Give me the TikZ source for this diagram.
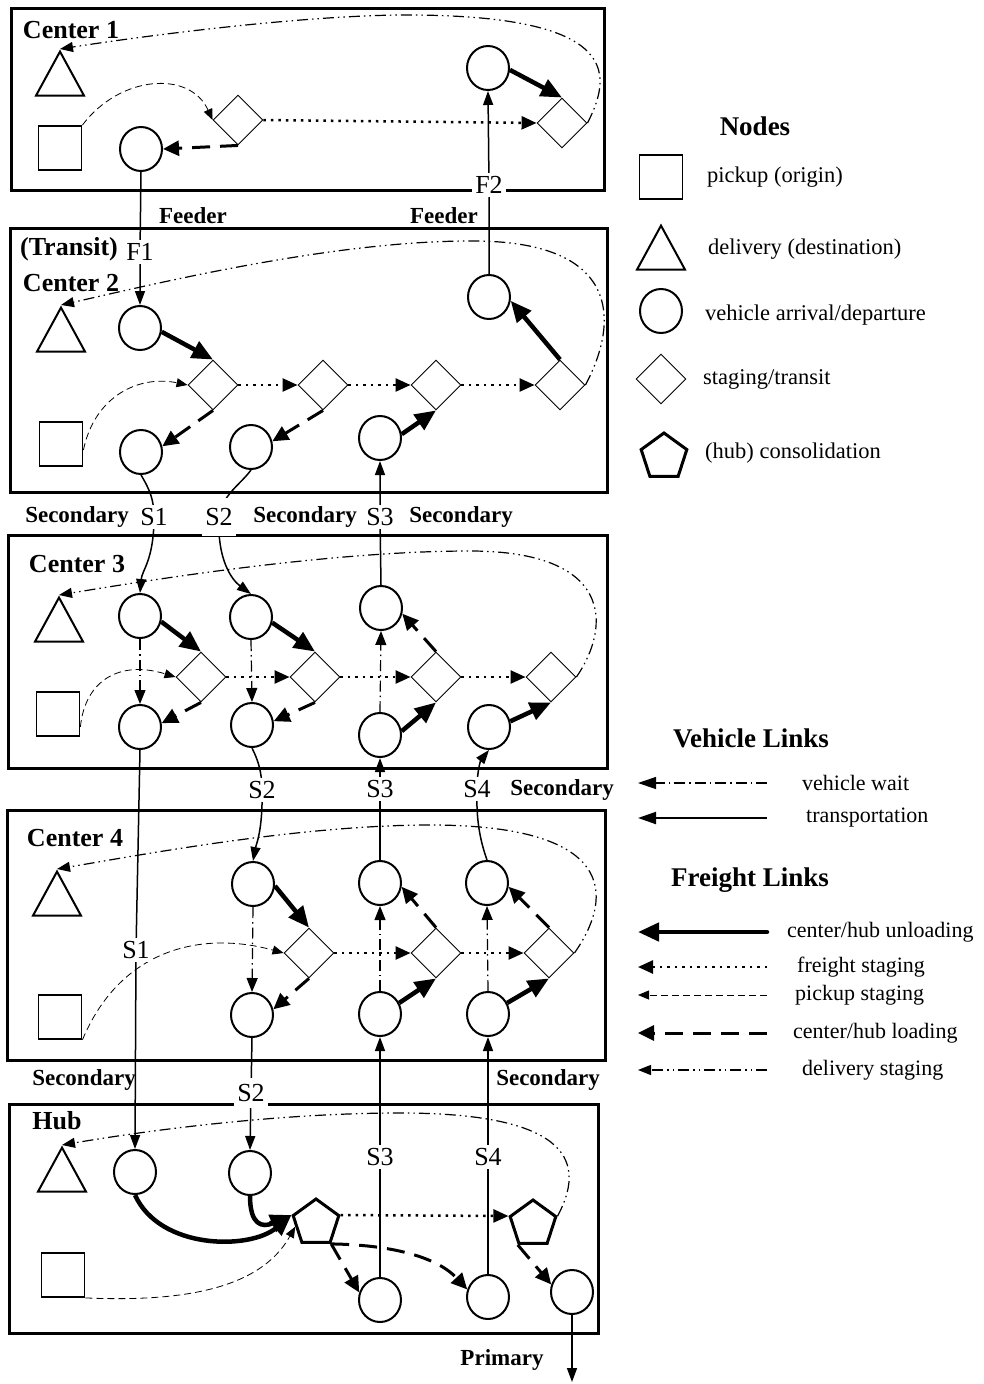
\documentclass[tikz,border=0pt]{standalone}
\usepackage{fontspec}
\setmainfont{Liberation Serif}
\usetikzlibrary{arrows.meta,shapes.geometric}
\tikzset{
 cbox/.style={line width=3pt},
 veh/.style={ellipse, draw, line width=2pt, minimum width=42pt, minimum height=44pt, inner sep=0pt},
 stg/.style={diamond, draw, line width=0.9pt, minimum width=50pt, minimum height=50pt, inner sep=0pt},
 hubn/.style={regular polygon, regular polygon sides=5, draw, line width=3pt, minimum size=48pt, inner sep=0pt},
 dest/.style={isosceles triangle, shape border rotate=90, isosceles triangle stretches, draw, line width=2pt, minimum width=48pt, minimum height=44pt, inner sep=0pt, anchor=apex},
 orig/.style={rectangle, draw, line width=1.8pt, minimum width=43pt, minimum height=44pt, inner sep=0pt},
 transp/.style={line width=1.5pt, -{Triangle[length=14pt,width=10pt]}},
 unload/.style={line width=4.5pt, -{Triangle[length=21pt,width=18pt]}},
 loadl/.style={line width=3pt, dash pattern=on 18pt off 10pt, -{Triangle[length=16pt,width=15pt]}},
 frt/.style={line width=2.5pt, dash pattern=on 2.5pt off 5pt, -{Triangle[length=15pt,width=13pt]}},
 pick/.style={line width=0.8pt, dash pattern=on 7pt off 4pt, -{Triangle[length=11pt,width=9pt]}},
 deliv/.style={line width=1.2pt, dash pattern=on 11pt off 4pt on 1.5pt off 4pt on 1.5pt off 4pt, -{Triangle[length=13pt,width=10pt]}},
 vwait/.style={line width=1.2pt, dash pattern=on 11pt off 4pt on 1.5pt off 4pt, -{Triangle[length=14pt,width=11pt]}},
 boxlbl/.style={font=\bfseries\fontsize{26}{30}\selectfont, inner sep=0pt},
 sec/.style={font=\bfseries\fontsize{23}{27}\selectfont, inner sep=0pt},
 lbl/.style={font=\fontsize{26}{30}\selectfont, fill=white, inner sep=3pt},
 leg/.style={font=\fontsize{22.5}{26}\selectfont, anchor=west, inner sep=0pt},
 legb/.style={font=\fontsize{22}{26}\selectfont, anchor=west, inner sep=0pt},
 legt/.style={font=\bfseries\fontsize{27}{32}\selectfont, inner sep=0pt},
}
\begin{document}
\begin{tikzpicture}[x=1pt,y=-1pt]
\useasboundingbox (0,0) rectangle (984,1384);

% ---------- boxes
\draw[cbox] (11,8) rectangle (604,190);
\draw[cbox] (10,228) rectangle (607,492);
\draw[cbox] (8,535) rectangle (607,768);
\draw[cbox] (7,810) rectangle (605,1060);
\draw[cbox] (9,1104) rectangle (598,1333);

% ---------- box labels
\node[boxlbl] (L1) at (71,30) {Center 1};
\node[boxlbl] (L2a) at (69,249) {(Transit)};
\node[boxlbl] (L2) at (71,283) {Center 2};
\node[boxlbl] (L3) at (77,564) {Center 3};
\node[boxlbl] (L4) at (75,838) {Center 4};
\node[boxlbl] (L5) at (57,1121) {Hub};

% ---------- Center 1
\node[dest] (t1) at (60,49) {};
\node[orig] (q1) at (60,148) {};
\node[veh] (c1a) at (141,149) {};
\node[veh] (c1b) at (488,68) {};
\node[stg] (d11) at (238,120) {};
\node[stg] (d12) at (562,123) {};
\draw[pick] (q1.north east) .. controls (120,75) and (190,70) .. (d11.west);
\draw[loadl] (d11.south) -- (c1a.east);
\draw[frt] (d11.east) -- (d12.west);
\draw[unload] (c1b.-5) -- (d12.north);
\draw[deliv] (d12.east) .. controls (615,70) and (615,14) .. (400,15) .. controls (300,16) and (150,35) .. (t1.apex);

% ---------- Center 2
\node[dest] (t2) at (61,305) {};
\node[orig] (q2) at (61,444) {};
\node[veh] (c2a) at (140,328) {};
\node[veh] (c2b) at (489,297) {};
\node[veh] (c2c) at (141,452) {};
\node[veh] (c2d) at (251,447) {};
\node[veh] (c2e) at (380,438) {};
\node[stg] (d2a) at (213,385) {};
\node[stg] (d2b) at (323,385) {};
\node[stg] (d2c) at (436,385) {};
\node[stg] (d2d) at (560,385) {};
\draw[pick] (q2.-15) .. controls (95,395) and (140,375) .. (d2a.west);
\draw[unload] (c2a.-10) -- (d2a.north);
\draw[loadl] (d2a.south) -- (c2c.15);
\draw[loadl] (d2b.south) -- (c2d.15);
\draw[unload] (c2e.10) -- (d2c.south);
\draw[unload] (d2d.north) -- (c2b.-10);
\draw[frt] (d2a.east) -- (d2b.west);
\draw[frt] (d2b.east) -- (d2c.west);
\draw[frt] (d2c.east) -- (d2d.west);
\draw[deliv] (d2d.east) .. controls (620,320) and (620,240) .. (470,241) .. controls (330,241) and (150,285) .. (t2.apex);

% ---------- Center 3
\node[dest] (t3) at (59,595) {};
\node[orig] (q3) at (58,714) {};
\node[veh] (c3a) at (140,616) {};
\node[veh] (c3b) at (251,617) {};
\node[veh] (c3c) at (381,608) {};
\node[veh] (c3d) at (140,727) {};
\node[veh] (c3e) at (252,725) {};
\node[veh] (c3f) at (380,735) {};
\node[veh] (c3g) at (489,727) {};
\node[stg] (d3a) at (201,677) {};
\node[stg] (d3b) at (315,677) {};
\node[stg] (d3c) at (436,677) {};
\node[stg] (d3d) at (551,677) {};
\draw[pick] (q3.-30) .. controls (85,680) and (120,660) .. (d3a.west);
\draw[unload] (c3a.-15) -- (d3a.north);
\draw[unload] (c3b.-15) -- (d3b.north);
\draw[vwait] (c3a.south) -- (c3d.north);
\draw[vwait] (c3b.south) -- (c3e.north);
\draw[vwait] (c3f.north) -- (c3c.south);
\draw[loadl] (d3a.south) -- (c3d.10);
\draw[loadl] (d3b.south) -- (c3e.10);
\draw[loadl] (d3c.north) -- (c3c.-15);
\draw[unload] (c3f.10) -- (d3c.south);
\draw[unload] (c3g.15) -- (d3d.south);
\draw[frt] (d3a.east) -- (d3b.west);
\draw[frt] (d3b.east) -- (d3c.west);
\draw[frt] (d3c.east) -- (d3d.west);
\draw[deliv] (d3d.east) .. controls (612,625) and (612,551) .. (470,551) .. controls (330,551) and (150,580) .. (t3.apex);

% ---------- Center 4
\node[dest] (t4) at (57,869) {};
\node[orig] (q4) at (60,1017) {};
\node[veh] (c4a) at (253,884) {};
\node[veh] (c4b) at (380,883) {};
\node[veh] (c4c) at (487,883) {};
\node[veh] (c4d) at (252,1015) {};
\node[veh] (c4e) at (380,1014) {};
\node[veh] (c4f) at (488,1014) {};
\node[stg] (d4a) at (309,953) {};
\node[stg] (d4b) at (436,953) {};
\node[stg] (d4c) at (549,953) {};
\draw[pick] (q4.south east) .. controls (120,950) and (200,930) .. (d4a.west);
\draw[unload] (c4a.-5) -- (d4a.north);
\draw[vwait] (c4a.south) -- (c4d.north);
\draw[loadl] (d4a.south) -- (c4d.15);
\draw[unload] (c4e.30) -- (d4b.south);
\draw[loadl] (d4b.north) -- (c4b.-10);
\draw[vwait] (c4e.north) -- (c4b.south);
\draw[unload] (c4f.30) -- (d4c.south);
\draw[loadl] (d4c.north) -- (c4c.-10);
\draw[vwait] (c4f.north) -- (c4c.south);
\draw[frt] (d4a.east) -- (d4b.west);
\draw[frt] (d4b.east) -- (d4c.west);
\draw[deliv] (d4c.east) .. controls (615,895) and (615,825) .. (430,825) .. controls (300,825) and (140,855) .. (t4.apex);

% ---------- Hub
\node[dest] (t5) at (62,1145) {};
\node[orig] (q5) at (63,1275) {};
\node[veh] (c5a) at (135,1172) {};
\node[veh] (c5b) at (250,1173) {};
\node[veh] (c5c) at (380,1300) {};
\node[veh] (c5d) at (488,1297) {};
\node[veh] (c5e) at (572,1292) {};
\node[hubn] (p1) at (316,1223) {};
\node[hubn] (p2) at (533,1224) {};
\draw[unload] (c5a.south) .. controls (160,1250) and (250,1250) .. (p1.corner 2);
\draw[unload] (c5b.south) .. controls (250,1225) and (262,1228) .. (p1.corner 2);
\draw[pick] (q5.south east) .. controls (180,1302) and (260,1290) .. (p1.190);
\draw[frt] (p1.corner 5) -- (p2.corner 2);
\draw[loadl] (p1.corner 4) -- (c5c.160);
\draw[loadl] (p1.corner 4) .. controls (400,1245) and (440,1260) .. (c5d.160);
\draw[loadl] (p2.corner 3) -- (c5e.160);
\draw[deliv] (p2.corner 5) .. controls (585,1165) and (575,1113) .. (400,1113) .. controls (280,1113) and (150,1130) .. (t5.apex);
\coordinate (prim) at (572,1382);
\draw[transp] (c5e.south) -- (prim);

% ---------- transportation links between centers
\draw[transp] (c1a.south) -- (140,252) node[lbl]{F1} -- (c2a.north);
\draw[transp] (c2b.north) -- (489,185) node[lbl]{F2} -- (c1b.south);
\draw[transp] (c2c.south) .. controls (150,490) and (154,500) .. (154,517) node[lbl]{S1} .. controls (154,560) and (142,570) .. (c3a.north);
\draw[transp] (c2d.south) .. controls (240,485) and (222,495) .. (219,517) node[lbl,minimum height=38pt]{S2} .. controls (217,560) and (232,580) .. (c3b.north);
\draw[transp] (c3c.north) -- (380,517) node[lbl]{S3} -- (c2e.south);
\draw[transp] (c3d.south) -- (136,950) node[lbl]{S1} -- (c5a.north);
\draw[transp] (c3e.south) .. controls (258,760) and (262,772) .. (262,790) node[lbl]{S2} .. controls (263,830) and (256,845) .. (c4a.north);
\draw[transp] (c4b.north) -- (380,789) node[lbl]{S3} -- (c3f.south);
\draw[transp] (c4c.north) .. controls (480,840) and (476,820) .. (477,789) node[lbl]{S4} .. controls (477,770) and (481,760) .. (c3g.south);
\draw[transp] (c4d.south) -- (251,1093) node[lbl,minimum height=30pt]{S2} -- (c5b.north);
\draw[transp] (c5c.north) -- (380,1157) node[lbl]{S3} -- (c4e.south);
\draw[transp] (c5d.north) -- (488,1157) node[lbl]{S4} -- (c4f.south);

% ---------- link-type labels
\node[sec] (fd1) at (193,216) {Feeder};
\node[sec] (fd2) at (444,216) {Feeder};
\node[sec] (sc1) at (77,517) {Secondary};
\node[sec] (sc2) at (305,517) {Secondary};
\node[sec] (sc3) at (461,517) {Secondary};
\node[sec] (sc4) at (562,790) {Secondary};
\node[sec] (sc5) at (84,1080) {Secondary};
\node[sec] (sc6) at (548,1080) {Secondary};
\node[sec] (prl) at (502,1360) {Primary};

% ---------- legend: nodes
\node[legt] (lgN) at (755,126) {Nodes};
\node[orig] (lgq) at (661,177) {};
\node[leg] (lgq-t) at (707,177) {pickup (origin)};
\node[dest] (lgt) at (661,223) {};
\node[leg] (lgt-t) at (708,249) {delivery (destination)};
\node[veh] (lgc) at (661,311) {};
\node[leg] (lgc-t) at (705,315) {vehicle arrival/departure};
\node[stg] (lgd) at (661,379) {};
\node[leg] (lgd-t) at (703,379) {staging/transit};
\node[hubn] (lgp) at (664,457) {};
\node[leg] (lgp-t) at (705,453) {(hub) consolidation};

% ---------- legend: links
\node[legt] (lgV) at (751,738) {Vehicle Links};
\coordinate (v1s) at (767,783); \coordinate (v1e) at (638,783);
\draw[vwait, -{Triangle[length=18pt,width=12pt]}] (v1s) -- (v1e);
\node[legb] (v1t) at (802,783) {vehicle wait};
\coordinate (v2s) at (767,818); \coordinate (v2e) at (638,818);
\draw[line width=2pt, -{Triangle[length=18pt,width=12pt]}] (v2s) -- (v2e);
\node[legb] (v2t) at (806,818) {transportation};
\node[legt] (lgF) at (750,880) {Freight Links};
\coordinate (f1s) at (767,932); \coordinate (f1e) at (638,932);
\draw[unload, line cap=round] (f1s) -- (f1e);
\node[legb] (f1t) at (787,932) {center/hub unloading};
\coordinate (f2s) at (767,967); \coordinate (f2e) at (638,967);
\draw[frt] (f2s) -- (f2e);
\node[legb] (f2t) at (797,967) {freight staging};
\coordinate (f3s) at (767,995); \coordinate (f3e) at (638,995);
\draw[pick] (f3s) -- (f3e);
\node[legb] (f3t) at (795,995) {pickup staging};
\coordinate (f4s) at (767,1033); \coordinate (f4e) at (638,1033);
\draw[loadl] (f4s) -- (f4e);
\node[legb] (f4t) at (793,1033) {center/hub loading};
\coordinate (f5s) at (767,1070); \coordinate (f5e) at (638,1070);
\draw[deliv] (f5s) -- (f5e);
\node[legb] (f5t) at (802,1070) {delivery staging};
\end{tikzpicture}
\end{document}
